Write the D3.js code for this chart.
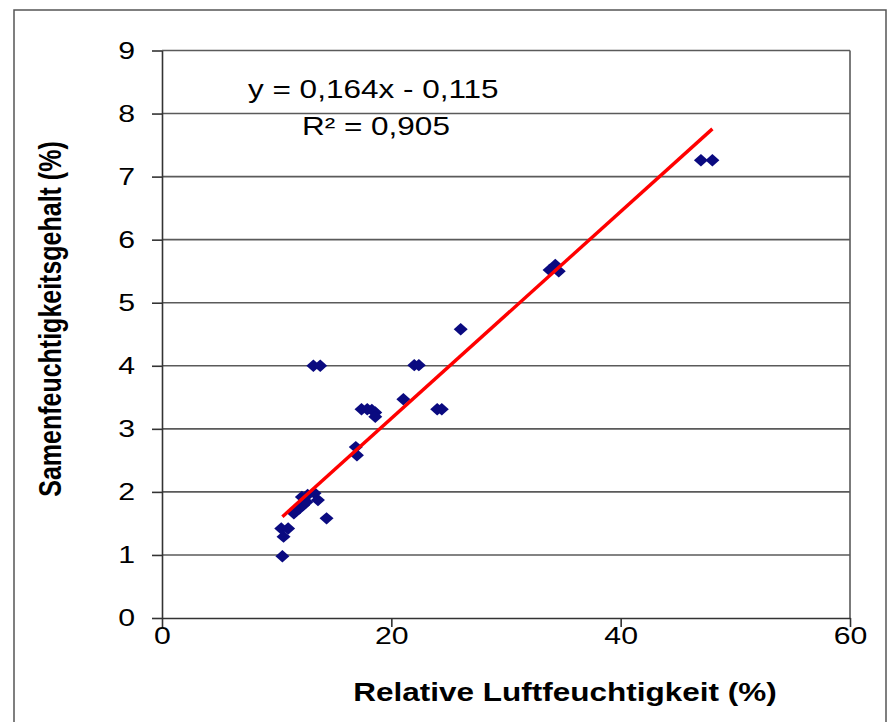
<!DOCTYPE html>
<html>
<head>
<meta charset="utf-8">
<script src="https://cdn.jsdelivr.net/npm/d3@7"></script>
<style>
  body { margin: 0; background: #fff; }
  text { font-family: "Liberation Sans", Arial, sans-serif; fill: #000; }
</style>
</head>
<body>
<div id="chart"></div>
<script>
// data
var humidity = [10.5, 10.6, 10.4, 11.0, 11.5, 11.7, 12.0, 12.3, 12.2, 12.7, 13.3, 13.6, 12.6, 14.35,
  13.2, 13.8, 16.9, 17.0, 17.4, 17.9, 18.3, 18.6, 18.6, 21.05, 22.0, 22.4, 24.0, 24.4, 26.05,
  33.8, 34.3, 34.6, 47.0, 48.0];
var seedMoisture = [0.98, 1.29, 1.42, 1.42, 1.66, 1.7, 1.74, 1.79, 1.92, 1.95, 1.98, 1.87, 1.84, 1.58,
  4.0, 4.0, 2.71, 2.58, 3.31, 3.31, 3.3, 3.26, 3.19, 3.47, 4.01, 4.01, 3.31, 3.31, 4.58,
  5.52, 5.6, 5.5, 7.26, 7.26];
var slope = 0.164, intercept = -0.115;
var trendRange = [10.5, 48];
var xTicks = [0, 20, 40, 60];
var yTicks = [0, 1, 2, 3, 4, 5, 6, 7, 8, 9];

var width = 888, height = 722;
var margin = {top: 50.5, right: 38, bottom: 104, left: 162};
var stretch = 1.26; // the original picture is drawn a bit wider than tall

var svg = d3.select("#chart")
  .append("svg")
    .attr("width", width)
    .attr("height", height);

// outer frame
svg.append("rect")
  .attr("x", 14).attr("y", 10)
  .attr("width", 872).attr("height", 740)
  .attr("fill", "none")
  .attr("stroke", "#555")
  .attr("stroke-width", 1.5);

var x = d3.scaleLinear().domain([0, 60]).range([margin.left, width - margin.right]);
var y = d3.scaleLinear().domain([0, 9]).range([height - margin.bottom, margin.top]);

// gridlines
svg.append("g")
  .selectAll("line")
  .data(yTicks.slice(1))
  .enter()
  .append("line")
    .attr("x1", x(0)).attr("x2", x(60))
    .attr("y1", d => y(d)).attr("y2", d => y(d))
    .attr("stroke", "#5a5a5a")
    .attr("stroke-width", 1.6);

// right border of plot area
svg.append("line")
  .attr("x1", x(60)).attr("x2", x(60))
  .attr("y1", y(9)).attr("y2", y(0))
  .attr("stroke", "#5a5a5a")
  .attr("stroke-width", 1.6);

// x axis
var xAxis = svg.append("g")
  .attr("transform", `translate(0, ${y(0)})`)
  .call(d3.axisBottom(x).tickValues(xTicks).tickSize(9).tickPadding(0).tickSizeOuter(0));
xAxis.selectAll("line, path").attr("stroke", "#333").attr("stroke-width", 1.6);
xAxis.selectAll("text")
  .attr("font-size", "24px")
  .attr("transform", `scale(${stretch},1)`)
  .style("font-family", "Liberation Sans, Arial, sans-serif");

// y axis
var yAxis = svg.append("g")
  .attr("transform", `translate(${x(0)}, 0)`)
  .call(d3.axisLeft(y).tickValues(yTicks).tickSize(10).tickSizeOuter(0));
yAxis.selectAll("line, path").attr("stroke", "#333").attr("stroke-width", 1.6);
yAxis.selectAll("text")
  .attr("font-size", "24px")
  .attr("x", -27 / stretch)
  .attr("transform", `scale(${stretch},1)`)
  .style("font-family", "Liberation Sans, Arial, sans-serif");

// axis titles
svg.append("text")
  .attr("transform", `translate(565, 701) scale(${stretch},1)`)
  .attr("text-anchor", "middle")
  .attr("font-size", "25px")
  .attr("font-weight", "bold")
  .text("Relative Luftfeuchtigkeit (%)");

svg.append("text")
  .attr("transform", `translate(61, 319) rotate(-90) scale(1,${stretch})`)
  .attr("text-anchor", "middle")
  .attr("font-size", "25px")
  .attr("font-weight", "bold")
  .text("Samenfeuchtigkeitsgehalt (%)");

// data points as diamonds
svg.append("g")
  .selectAll("path")
  .data(humidity.map((h, i) => [h, seedMoisture[i]]))
  .enter()
  .append("path")
    .attr("d", "M0,-6.2 L7,0 L0,6.2 L-7,0 Z")
    .attr("transform", d => `translate(${x(d[0])}, ${y(d[1])})`)
    .attr("fill", "#0a0a80");

// trend line
svg.append("line")
  .attr("x1", x(trendRange[0])).attr("y1", y(slope * trendRange[0] + intercept))
  .attr("x2", x(trendRange[1])).attr("y2", y(slope * trendRange[1] + intercept))
  .attr("stroke", "#ff0000")
  .attr("stroke-width", 3.4);

// equation
svg.append("text")
  .attr("transform", `translate(248, 98) scale(${stretch},1)`)
  .attr("font-size", "25px")
  .text("y = 0,164x - 0,115");
svg.append("text")
  .attr("transform", `translate(302, 135) scale(${stretch},1)`)
  .attr("font-size", "25px")
  .text("R² = 0,905");
</script>
</body>
</html>
